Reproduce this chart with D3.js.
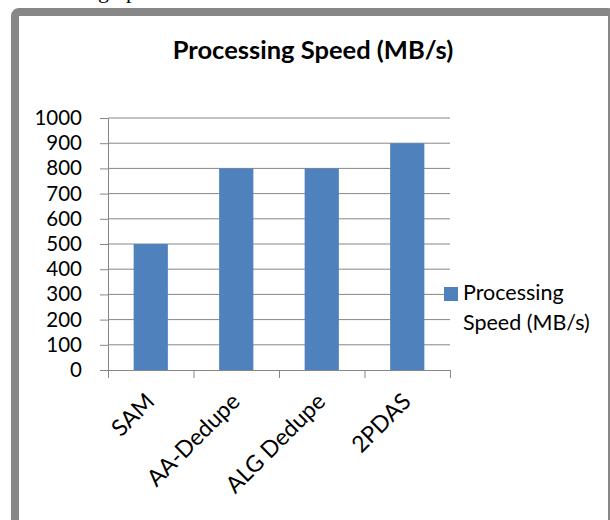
<!DOCTYPE html>
<html>
<head>
<meta charset="utf-8">
<script src="https://cdn.jsdelivr.net/npm/d3@7"></script>
<style>
  body { margin: 0; background: #fff; }
  svg { display: block; }
</style>
</head>
<body>
<div id="chart"></div>
<script>
var width = 610,
    height = 520;

// data
var categories = ['SAM', 'AA-Dedupe', 'ALG Dedupe', '2PDAS'];
var speeds = [500, 800, 800, 900];
var yTicks = [0, 100, 200, 300, 400, 500, 600, 700, 800, 900, 1000];
var seriesName = ['Processing', 'Speed (MB/s)'];

var font = 'Lato, "Open Sans", sans-serif';
var gray = '#868686';
var blue = '#4F81BD';

var svg = d3
    .select('#chart')
    .append('svg')
    .attr('width', width)
    .attr('height', height);

// clipped line of document text above the chart
svg.append('text')
    .attr('x', 98)
    .attr('y', -2)
    .style('font-family', '"Liberation Serif", serif')
    .style('font-size', '22px')
    .text('graph');

// chart frame
svg.append('rect')
    .attr('x', 15)
    .attr('y', 12)
    .attr('width', 597)
    .attr('height', 540)
    .attr('rx', 4)
    .attr('fill', '#fff')
    .attr('stroke', '#878787')
    .attr('stroke-width', 8);

svg.append('text')
    .attr('x', 313)
    .attr('y', 59)
    .attr('text-anchor', 'middle')
    .style('font-family', font)
    .style('font-weight', 'bold')
    .style('font-size', '25.5px')
    .text('Processing Speed (MB/s)');

var x = d3.scaleBand()
    .domain(categories)
    .range([108, 450])
    .paddingInner(0.6)
    .paddingOuter(0.3);

var xTickScale = d3.scaleLinear()
    .domain([0, categories.length])
    .range([108, 450]);

var y = d3.scaleLinear()
    .domain([0, 1000])
    .range([370, 118]);

// gridlines
svg.append('g')
    .selectAll('line')
    .data(yTicks.slice(1))
    .enter()
    .append('line')
    .attr('x1', 108)
    .attr('x2', 450)
    .attr('y1', d => y(d))
    .attr('y2', d => y(d))
    .attr('stroke', gray)
    .attr('stroke-width', 1);

// bars
svg.append('g')
    .selectAll('rect')
    .data(speeds)
    .enter()
    .append('rect')
    .attr('x', (d, i) => x(categories[i]))
    .attr('y', d => y(d))
    .attr('width', x.bandwidth())
    .attr('height', d => y(0) - y(d))
    .attr('fill', blue);

// y axis
var yAxis = svg.append('g')
    .attr('transform', 'translate(108,0)')
    .call(d3.axisLeft(y)
        .tickValues(yTicks)
        .tickFormat(d3.format('d'))
        .tickSize(8)
        .tickPadding(18)
        .tickSizeOuter(0));
yAxis.selectAll('line, path').attr('stroke', gray);
yAxis.selectAll('text')
    .style('font-family', font)
    .style('font-size', '20.5px')
    .attr('fill', '#000');

// x axis, ticks between categories
var xAxis = svg.append('g')
    .attr('transform', 'translate(0,370)')
    .call(d3.axisBottom(xTickScale).ticks(categories.length).tickSize(8).tickFormat('').tickSizeOuter(0));
xAxis.selectAll('line, path').attr('stroke', gray);

svg.append('g')
    .selectAll('text')
    .data(categories)
    .enter()
    .append('text')
    .attr('transform', d => {
        var cx = x(d) + x.bandwidth() / 2 + 5;
        return 'translate(' + cx + ',403) rotate(-45)';
    })
    .attr('text-anchor', 'end')
    .style('font-family', font)
    .style('font-size', '23px')
    .text(d => d);

// legend
svg.append('rect')
    .attr('x', 444)
    .attr('y', 287)
    .attr('width', 14)
    .attr('height', 14)
    .attr('fill', blue);

svg.append('g')
    .selectAll('text')
    .data(seriesName)
    .enter()
    .append('text')
    .attr('x', 463)
    .attr('y', (d, i) => 300 + i * 30)
    .style('font-family', font)
    .style('font-size', '21.5px')
    .text(d => d);
</script>
</body>
</html>
